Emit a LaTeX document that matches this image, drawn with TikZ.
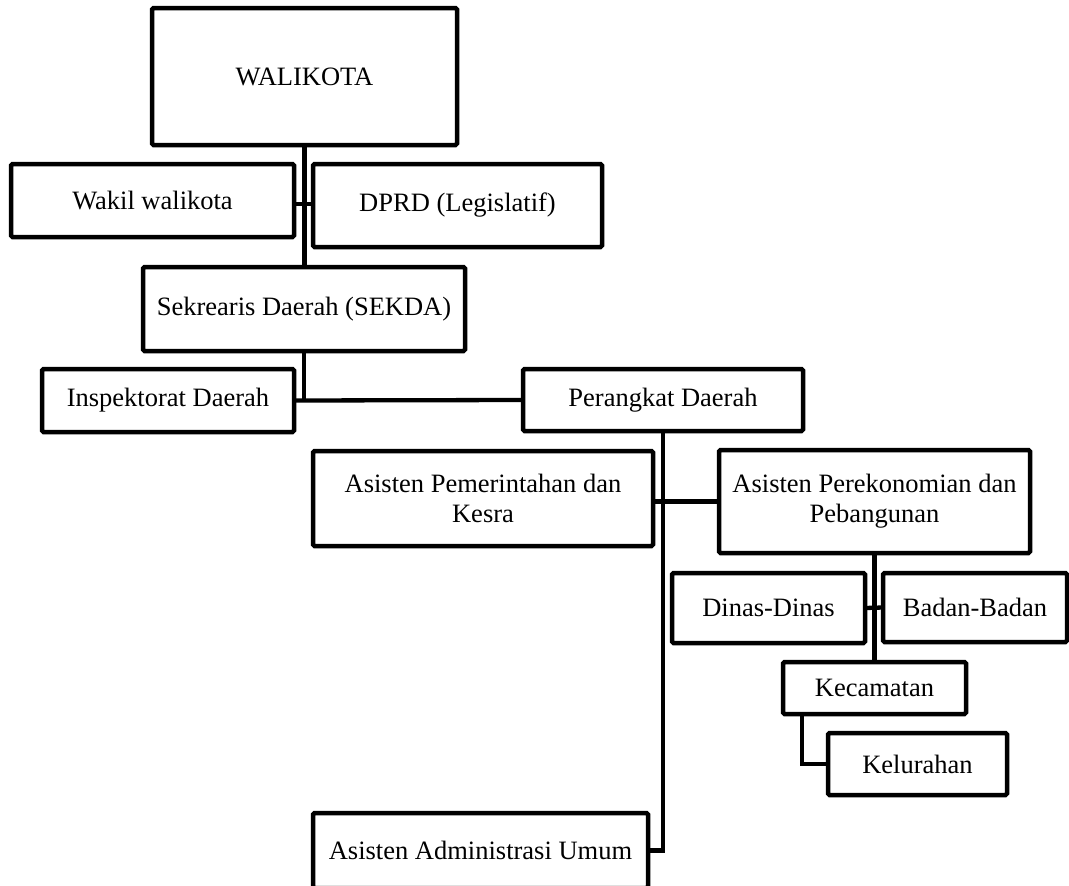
\documentclass[tikz,border=0pt]{standalone}
\usepackage{fontspec}
\setmainfont{Liberation Serif}
\begin{document}
\begin{tikzpicture}[x=1pt,y=-1pt,
  box/.style={draw=black, line width=4.5pt, rounded corners=1.5pt, inner sep=0pt, outer sep=0pt,
    align=center, font=\fontsize{26.5}{30}\selectfont},
  conn/.style={draw=black, line width=4.3pt}]
\useasboundingbox (0,0) rectangle (1069,886);
\node[box, minimum width=305pt, minimum height=137pt] (walikota) at (304.5,76.5) {WALIKOTA};
\node[box, minimum width=283pt, minimum height=73pt] (wakil) at (152.5,200.5) {Wakil walikota};
\node[box, minimum width=289pt, minimum height=83pt] (dprd) at (457.5,205.5) {DPRD (Legislatif)};
\node[box, minimum width=322pt, minimum height=84pt] (sekda) at (304,309) {Sekrearis Daerah (SEKDA)};
\node[box, minimum width=252pt, minimum height=63pt] (insp) at (168,400.5) {Inspektorat Daerah};
\node[box, minimum width=280pt, minimum height=62pt] (perangkat) at (663,400) {Perangkat Daerah};
\node[box, minimum width=340pt, minimum height=95pt] (aspem) at (483,498.5) {Asisten Pemerintahan dan\\Kesra};
\node[box, minimum width=311pt, minimum height=103pt] (asper) at (874.5,501.5) {Asisten Perekonomian dan\\Pebangunan};
\node[box, minimum width=193pt, minimum height=70pt] (dinas) at (768.5,608) {Dinas-Dinas};
\node[box, minimum width=184pt, minimum height=69pt] (badan) at (975,607.5) {Badan-Badan};
\node[box, minimum width=183pt, minimum height=52pt] (kec) at (874.5,688) {Kecamatan};
\node[box, minimum width=179pt, minimum height=62pt] (kel) at (917.5,764) {Kelurahan};
\node[box, minimum width=335pt, minimum height=75pt] (admin) at (480.5,850.5) {Asisten Administrasi Umum};

\draw[conn] (walikota.south) -- (walikota.south |- sekda.north);
\draw[conn] ([yshift=-3.5pt]wakil.east) -- ([yshift=-3.5pt]wakil.east -| dprd.west);
\draw[conn] (sekda.south) -- (sekda.south |- insp.east);
\draw[conn] (insp.east) -- (perangkat.west);
\draw[conn] (perangkat.south) |- (admin.east);
\draw[conn] (asper.west) -- (asper.west -| aspem.east);
\draw[conn] (asper.south) -- (kec.north);
\draw[conn] (dinas.east) -- (badan.west);
\draw[conn] ([xshift=19pt]kec.south west) |- (kel.west);
\end{tikzpicture}
\end{document}
